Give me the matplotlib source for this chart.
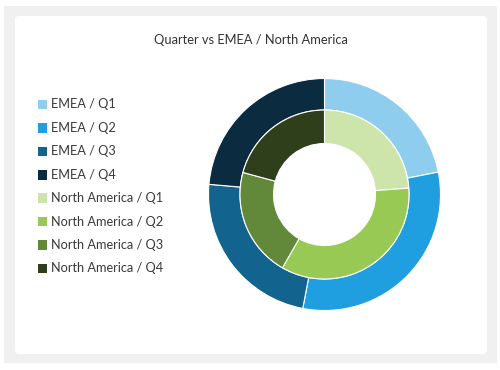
import matplotlib
matplotlib.use("Agg")
from matplotlib import pyplot as plt
from matplotlib.patches import Rectangle, FancyBboxPatch

# data (share of each quarter, %)
quarters = ["Q1", "Q2", "Q3", "Q4"]
emea = [21.9, 31.1, 23.4, 23.6]
north_america = [23.8, 34.5, 20.9, 20.8]

emea_colors = ["#8fcdef", "#1f9fdf", "#12648f", "#0b2b40"]
na_colors = ["#cde5aa", "#99c955", "#62883a", "#2f3f1b"]

title = "Quarter vs EMEA / North America"

plt.rcParams['font.family'] = ['Lato', 'DejaVu Sans']

W, H = 500, 370
fig = plt.figure(figsize=(W / 100, H / 100), dpi=100)
ax = fig.add_axes([0, 0, 1, 1])

# frame + white card
ax.add_patch(Rectangle((4, H - 363), 493, 357, facecolor="#f0f0f0", edgecolor="none", zorder=0))
ax.add_patch(FancyBboxPatch((15, H - 354), 472, 338, boxstyle="round,pad=0,rounding_size=4",
                            facecolor="white", edgecolor="none", zorder=0.5))

cx, cy = 324.5, H - 194.5
r_out, r_mid, r_in = 116, 84.5, 51

ax.pie(emea, colors=emea_colors, radius=r_out, center=(cx, cy), startangle=90, counterclock=False,
       wedgeprops=dict(width=r_out - r_mid, edgecolor="white", linewidth=0.8))
ax.pie(north_america, colors=na_colors, radius=r_mid, center=(cx, cy), startangle=90, counterclock=False,
       wedgeprops=dict(width=r_mid - r_in, edgecolor="white", linewidth=0.8))

ax.text(250.5, H - 40, title, ha="center", va="center", fontsize=9.3, color="#333333")

labels = ["EMEA / " + q for q in quarters] + ["North America / " + q for q in quarters]
colors = emea_colors + na_colors
for i, (lab, col) in enumerate(zip(labels, colors)):
    y = H - (104.5 + i * 23.4)
    ax.add_patch(Rectangle((37.5, y - 4.8), 9.6, 9.6, facecolor=col, edgecolor="none"))
    ax.text(51, y, lab, ha="left", va="center", fontsize=9.2, color="#3a3a3a")

ax.set_xlim(0, W)
ax.set_ylim(0, H)
ax.set_aspect("equal")
ax.axis("off")

fig.savefig("out.png", dpi=100)
